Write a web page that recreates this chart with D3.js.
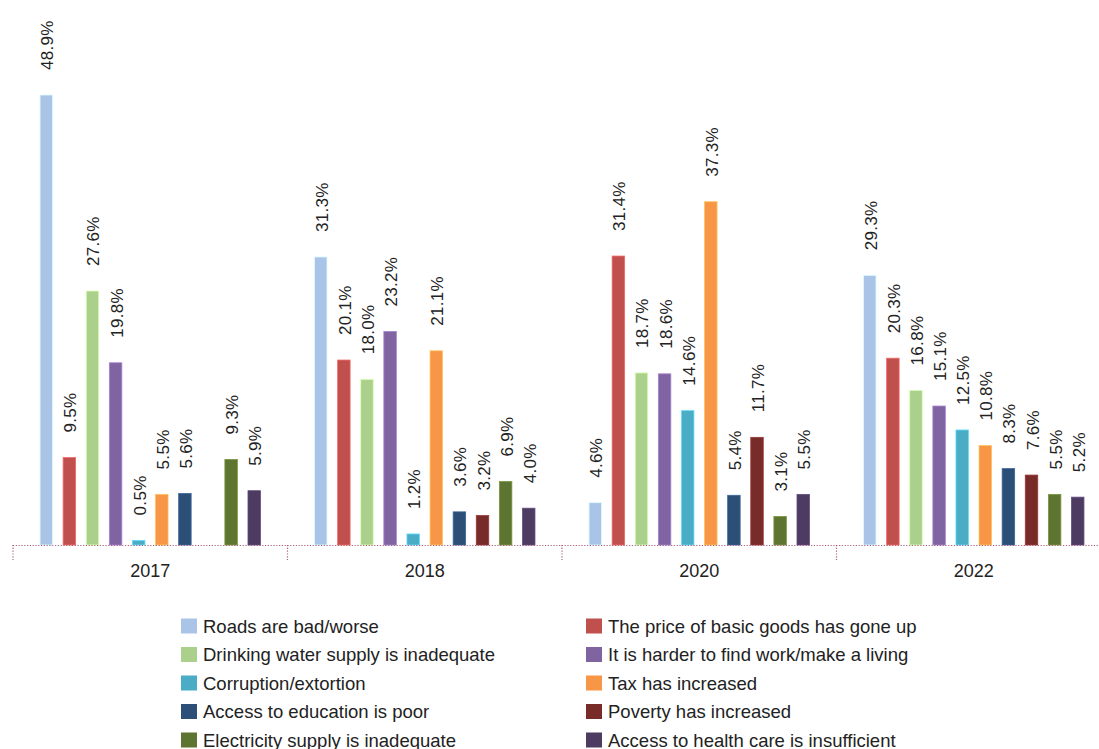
<!DOCTYPE html>
<html>
<head>
<meta charset="utf-8">
<script src="https://d3js.org/d3.v7.min.js"></script>
<style>
  html, body { margin: 0; padding: 0; background: #fff; }
  svg { display: block; }
  text { font-family: "Liberation Sans", Arial, sans-serif; fill: #222; }
</style>
</head>
<body>
<svg id="chart" width="1099" height="749"></svg>
<script>
// Survey years (groups along the x axis)
const years = ["2017", "2018", "2020", "2022"];

// Reported problems (one bar per problem within each year)
const problems = [
  "Roads are bad/worse",
  "The price of basic goods has gone up",
  "Drinking water supply is inadequate",
  "It is harder to find work/make a living",
  "Corruption/extortion",
  "Tax has increased",
  "Access to education is poor",
  "Poverty has increased",
  "Electricity supply is inadequate",
  "Access to health care is insufficient"
];

const colors = [
  "#aac4e8", "#c0504d", "#abd08c", "#8064a2", "#4bacc6",
  "#f79646", "#2c4f77", "#772c2a", "#5e7532", "#4d3b62"
];

// Share of respondents (%) per problem, in year order; null = not asked
const roads       = [48.9, 31.3, 4.6, 29.3];
const price       = [9.5, 20.1, 31.4, 20.3];
const water       = [27.6, 18.0, 18.7, 16.8];
const work        = [19.8, 23.2, 18.6, 15.1];
const corruption  = [0.5, 1.2, 14.6, 12.5];
const tax         = [5.5, 21.1, 37.3, 10.8];
const education   = [5.6, 3.6, 5.4, 8.3];
const poverty     = [null, 3.2, 11.7, 7.6];
const electricity = [9.3, 6.9, 3.1, 5.5];
const health      = [5.9, 4.0, 5.5, 5.2];

const seriesValues = [roads, price, water, work, corruption, tax, education, poverty, electricity, health];

const svg = d3.select("#chart");

const x0 = d3.scaleBand().domain(years).range([13, 1111]).paddingInner(0).paddingOuter(0);
const x1 = d3.scaleBand().domain(d3.range(problems.length)).range([0, x0.bandwidth()])
  .paddingInner(0.46).paddingOuter(1.17);
const y = d3.scaleLinear().domain([0, 48.9]).range([545, 95]);

// Bars and value labels
years.forEach((yr, yi) => {
  const g = svg.append("g").attr("transform", `translate(${x0(yr)},0)`);
  problems.forEach((p, pi) => {
    const v = seriesValues[pi][yi];
    if (v == null) return;
    const bx = x1(pi);
    g.append("rect")
      .attr("x", bx)
      .attr("y", y(v))
      .attr("width", x1.bandwidth())
      .attr("height", y(0) - y(v))
      .attr("fill", colors[pi])
      .attr("stroke", d3.color(colors[pi]).brighter(0.7))
      .attr("stroke-width", 0.8);
    g.append("text")
      .attr("transform", `translate(${bx + x1.bandwidth() / 2 + 7},${y(v) - 25}) rotate(-90)`)
      .attr("font-size", 17)
      .attr("letter-spacing", 0.3)
      .text(v.toFixed(1) + "%");
  });
});

// Category axis: dotted baseline with dividers between years
const axisColor = "#a8607f";
svg.append("line")
  .attr("x1", x0.range()[0]).attr("x2", x0.range()[1])
  .attr("y1", 545.5).attr("y2", 545.5)
  .attr("stroke", axisColor).attr("stroke-width", 1.2)
  .attr("stroke-dasharray", "1.2,1.6");
years.concat(["end"]).forEach((yr, i) => {
  const xp = x0.range()[0] + i * x0.step();
  svg.append("line")
    .attr("x1", xp).attr("x2", xp)
    .attr("y1", 545).attr("y2", 560)
    .attr("stroke", axisColor).attr("stroke-width", 1.2)
    .attr("stroke-dasharray", "1.2,1.6");
});
years.forEach(yr => {
  svg.append("text")
    .attr("x", x0(yr) + x0.bandwidth() / 2)
    .attr("y", 577)
    .attr("text-anchor", "middle")
    .attr("font-size", 18)
    .text(yr);
});

// Legend in two columns
const legendCols = [181, 586];
problems.forEach((p, i) => {
  const col = i % 2, row = Math.floor(i / 2);
  const ly = 626 + row * 28.5;
  svg.append("rect")
    .attr("x", legendCols[col]).attr("y", ly - 7.5)
    .attr("width", 16).attr("height", 15)
    .attr("fill", colors[i]);
  svg.append("text")
    .attr("x", legendCols[col] + 22).attr("y", ly + 6.5)
    .attr("font-size", 18.5)
    .text(p);
});
</script>
</body>
</html>
